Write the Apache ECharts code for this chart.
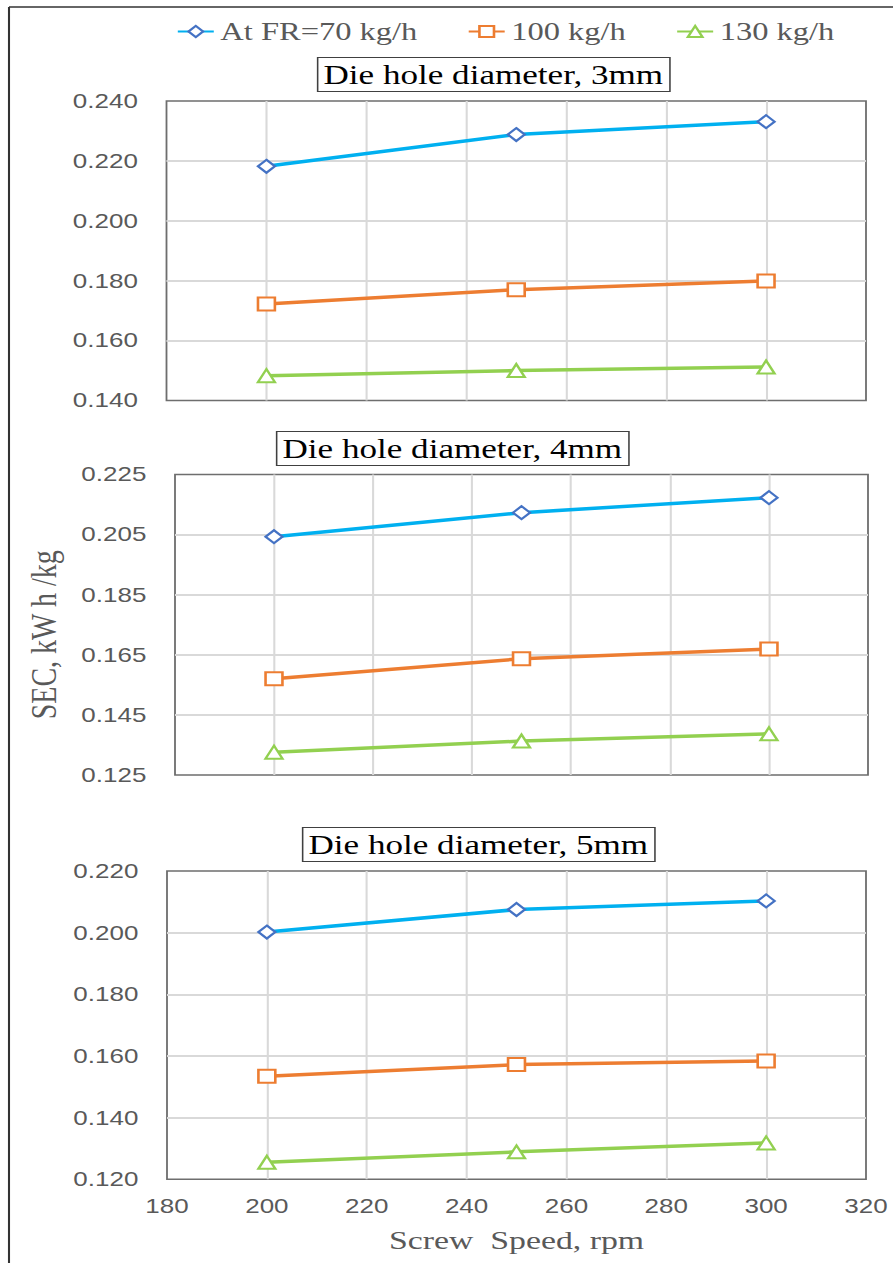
<!DOCTYPE html>
<html>
<head>
<meta charset="utf-8">
<script src="https://cdn.jsdelivr.net/npm/echarts@6/dist/echarts.min.js"></script>
<style>
  html, body { margin: 0; padding: 0; background: #fff; }
  #wrap { width: 893px; height: 1263px; overflow: hidden; position: relative; }
  #chart { height: 1263px; transform-origin: 0 0; }
</style>
</head>
<body>
<div id="wrap"><div id="chart"></div></div>
<script>
// Screw speed (rpm) at which SEC was measured
const speeds = [200, 250, 300];
const seriesNames = ['At FR=70 kg/h', '100 kg/h', '130 kg/h'];
const panelTitles = ['Die hole diameter, 3mm', 'Die hole diameter, 4mm', 'Die hole diameter, 5mm'];

// SEC, kW h/kg — die hole 3 mm
const d3mm_fr70 = [0.2182, 0.2288, 0.2331];
const d3mm_fr100 = [0.1722, 0.1770, 0.1799];
const d3mm_fr130 = [0.1483, 0.1500, 0.1512];
// die hole 4 mm
const d4mm_fr70 = [0.2043, 0.2123, 0.2173];
const d4mm_fr100 = [0.1570, 0.1637, 0.1669];
const d4mm_fr130 = [0.1326, 0.1363, 0.1387];
// die hole 5 mm
const d5mm_fr70 = [0.2002, 0.2075, 0.2103];
const d5mm_fr100 = [0.1534, 0.1572, 0.1584];
const d5mm_fr130 = [0.1255, 0.1289, 0.1318];

// y-axis ranges per panel
const yMins = [0.140, 0.125, 0.120];
const yMaxs = [0.240, 0.225, 0.220];
const yStep = 0.02;
const xMin = 180, xMax = 320, xStep = 20;

// The figure is drawn narrower and widened horizontally by S.
const S = 1.3;
const W = 893 / S;
const px = v => v / S;
const chartEl = document.getElementById('chart');
chartEl.style.width = W + 'px';
chartEl.style.transform = 'scaleX(' + S + ')';

const panelData = [
  [d3mm_fr70, d3mm_fr100, d3mm_fr130],
  [d4mm_fr70, d4mm_fr100, d4mm_fr130],
  [d5mm_fr70, d5mm_fr100, d5mm_fr130]
];

const styles = [
  { line: '#00B0F0', border: '#4472C4', symbol: 'diamond', size: 13 },
  { line: '#ED7D31', border: '#ED7D31', symbol: 'rect', size: 13 },
  { line: '#92D050', border: '#92D050', symbol: 'triangle', size: 13 }
];

const grids = [
  { left: px(166.5), top: 101, width: px(699.5), height: 299.5 },
  { left: px(175), top: 474.5, width: px(693), height: 300.5 },
  { left: px(167), top: 871, width: px(699), height: 308.3 }
].map(g => Object.assign(g, { show: true, borderColor: '#6e6e6e', borderWidth: 1.4, backgroundColor: 'transparent' }));

const titlePos = [
  { left: px(317), top: 57 },
  { left: px(276), top: 431 },
  { left: px(302), top: 827 }
];

const grey = '#595959';
const sans = 'Liberation Sans';
const serif = 'Liberation Serif';

const xAxes = grids.map((g, i) => ({
  type: 'value', gridIndex: i, min: xMin, max: xMax, interval: xStep,
  axisLine: { show: false },
  axisTick: { show: false },
  axisLabel: { show: i === 2, color: grey, fontFamily: sans, fontSize: 20, margin: 17 },
  splitLine: { show: true, showMinLine: false, showMaxLine: false, lineStyle: { color: '#d9d9d9', width: 1.6 } },
  name: i === 2 ? 'Screw  Speed, rpm' : '',
  nameLocation: 'middle', nameGap: 48,
  nameTextStyle: { color: grey, fontFamily: serif, fontSize: 26 }
}));

const yAxes = grids.map((g, i) => ({
  type: 'value', gridIndex: i, min: yMins[i], max: yMaxs[i], interval: yStep,
  axisLine: { show: false },
  axisTick: { show: false },
  axisLabel: { color: grey, fontFamily: sans, fontSize: 20, margin: 22, formatter: v => v.toFixed(3) },
  splitLine: { show: true, showMinLine: false, showMaxLine: false, lineStyle: { color: '#d9d9d9', width: 2 } },
  name: i === 1 ? 'SEC, kW h /kg' : '',
  nameLocation: 'middle', nameGap: 87, nameRotate: 90,
  nameTextStyle: { color: grey, fontFamily: serif, fontSize: 28, padding: [0, 20, 0, 0] }
}));

const series = [];
panelData.forEach((rows, p) => {
  rows.forEach((vals, k) => {
    const st = styles[k];
    series.push({
      type: 'line', name: seriesNames[k], xAxisIndex: p, yAxisIndex: p,
      data: speeds.map((s, j) => [s, vals[j]]),
      symbol: st.symbol, symbolSize: st.size, showAllSymbol: true,
      lineStyle: { color: st.line, width: 3.5 },
      itemStyle: { color: '#ffffff', borderColor: st.border, borderWidth: 2 },
      z: 3 + k
    });
  });
});

const option = {
  animation: false,
  backgroundColor: '#ffffff',
  legend: {
    data: seriesNames,
    left: px(170), top: 14,
    itemWidth: px(36), itemHeight: 14, itemGap: px(50),
    textStyle: { color: grey, fontFamily: serif, fontSize: 25 }
  },
  title: panelTitles.map((t, i) => ({
    text: t, left: titlePos[i].left, top: titlePos[i].top,
    padding: [4, 5],
    borderColor: '#404040', borderWidth: 1.2, backgroundColor: '#ffffff',
    textStyle: { color: '#000', fontFamily: serif, fontWeight: 'normal', fontSize: 27, lineHeight: 27 }
  })),
  grid: grids,
  xAxis: xAxes,
  yAxis: yAxes,
  series: series,
  graphic: [
    { type: 'line', shape: { x1: px(9), y1: 7, x2: W + 2, y2: 7 }, style: { stroke: '#333', lineWidth: 1.6 }, silent: true },
    { type: 'line', shape: { x1: px(9), y1: 7, x2: px(9), y2: 1265 }, style: { stroke: '#333', lineWidth: 1.6 }, silent: true }
  ]
};

const chart = echarts.init(chartEl, null, { renderer: 'svg' });
chart.setOption(option);
</script>
</body>
</html>
